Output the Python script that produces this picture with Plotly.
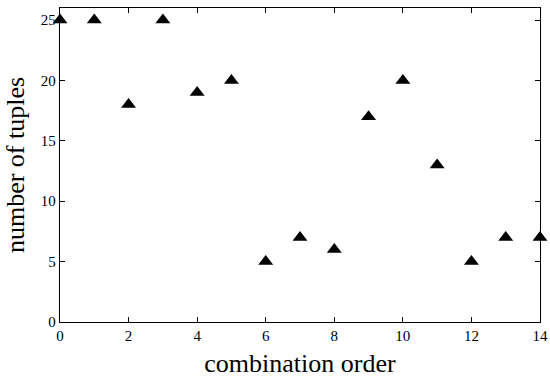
import plotly.graph_objects as go

# combination order vs. number of tuples
orders = list(range(15))
tuples = [25, 25, 18, 25, 19, 20, 5, 7, 6, 17, 20, 13, 5, 7, 7]
x_ticks = [0, 2, 4, 6, 8, 10, 12, 14]
y_ticks = [0, 5, 10, 15, 20, 25]

fig = go.Figure(
    go.Scatter(
        x=orders,
        y=tuples,
        mode="markers",
        marker=dict(symbol="triangle-up", size=13, color="black"),
        cliponaxis=False,
    )
)

axis_common = dict(
    showgrid=False,
    zeroline=False,
    showline=True,
    linecolor="black",
    linewidth=1.3,
    mirror="ticks",
    ticks="inside",
    ticklen=5,
    tickcolor="black",
    automargin=False,
    tickfont=dict(family="Liberation Serif", size=15, color="black"),
)

title_font = dict(family="Liberation Serif", size=26, color="black")

fig.update_layout(
    width=550,
    height=379,
    margin=dict(l=60, r=10, t=8, b=57),
    paper_bgcolor="white",
    plot_bgcolor="white",
    showlegend=False,
    xaxis=dict(
        range=[0, 14],
        tickvals=x_ticks,
        title=dict(text="combination order", font=title_font, standoff=10),
        **axis_common,
    ),
    yaxis=dict(
        range=[0, 26],
        tickvals=y_ticks,
        title=dict(text="number of tuples", font=title_font, standoff=8),
        **axis_common,
    ),
)

fig.write_html("out.html")
